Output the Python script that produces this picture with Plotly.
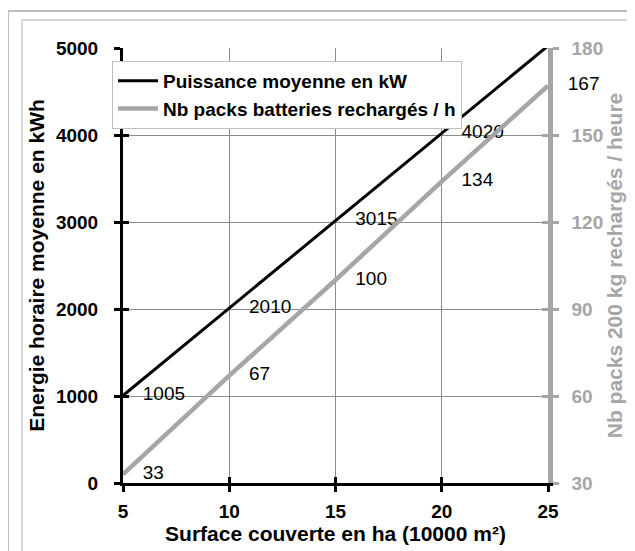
import plotly.graph_objects as go

# ---- data ----
surface_ha = [5, 10, 15, 20, 25]
puissance_kw = [1005, 2010, 3015, 4020, 5025]
puissance_labels = ["1005", "2010", "3015", "4020", ""]
packs_h = [33, 67, 100, 134, 167]
packs_labels = ["33", "67", "100", "134", "167"]

x_ticks = [5, 10, 15, 20, 25]
left_ticks = [0, 1000, 2000, 3000, 4000, 5000]
right_ticks = [30, 60, 90, 120, 150, 180]

name_black = "Puissance moyenne en kW"
name_gray = "Nb packs batteries rechargés / h"
x_title = "Surface couverte en ha (10000 m²)"
y_title = "Energie horaire moyenne en kWh"
y2_title = "Nb packs 200 kg rechargés / heure"

FONT = "Liberation Sans, Arial, sans-serif"
GRAY = "#A6A6A6"
GRID = "#8C8C8C"

fig = go.Figure()

fig.add_trace(go.Scatter(
    x=surface_ha, y=puissance_kw, name=name_black,
    mode="lines+markers+text", text=puissance_labels, textposition="middle right",
    textfont=dict(family=FONT, size=19, color="#000000"),
    line=dict(color="#000000", width=3),
    marker=dict(size=30, color="rgba(0,0,0,0)"),
    legendgroup="a", cliponaxis=True,
))
fig.add_trace(go.Scatter(
    x=surface_ha, y=packs_h, name=name_gray, yaxis="y2",
    mode="lines+markers+text", text=packs_labels, textposition="middle right",
    textfont=dict(family=FONT, size=19, color="#000000"),
    line=dict(color=GRAY, width=4.5),
    marker=dict(size=30, color="rgba(0,0,0,0)"),
    legendgroup="b", cliponaxis=False,
))

tick_font = dict(family=FONT, size=19, color="#000000", weight="bold")
title_font = dict(family=FONT, size=21, color="#000000", weight="bold")
gray_tick_font = dict(family=FONT, size=19, color=GRAY, weight="bold")
gray_title_font = dict(family=FONT, size=21, color=GRAY, weight="bold")

fig.update_layout(
    width=635, height=551,
    margin=dict(l=115, r=95, t=40, b=76, autoexpand=False),
    paper_bgcolor="white", plot_bgcolor="white",
    font=dict(family=FONT),
    showlegend=True,
    legend=dict(
        x=-0.0259, y=0.9701, xanchor="left", yanchor="top",
        bgcolor="white", bordercolor="#BFBFBF", borderwidth=1,
        font=dict(family=FONT, size=19, color="#000000", weight="bold"),
        tracegroupgap=0, itemwidth=40,
    ),
    xaxis=dict(
        range=[5, 25], tickvals=x_ticks, ticks="outside", ticklen=6, tickwidth=3,
        tickcolor="#000000", showline=True, linecolor="#000000", linewidth=3,
        showgrid=True, gridcolor=GRID, gridwidth=1, zeroline=False,
        tickfont=tick_font, ticklabelstandoff=3,
        title=dict(text=x_title, font=title_font, standoff=3),
        anchor="y",
    ),
    yaxis=dict(
        range=[0, 5000], tickvals=left_ticks, ticks="outside", ticklen=6, tickwidth=3,
        tickcolor="#000000", showline=True, linecolor="#000000", linewidth=3,
        showgrid=True, gridcolor=GRID, gridwidth=1, zeroline=False,
        tickfont=tick_font, ticklabelstandoff=12,
        title=dict(text=y_title, font=title_font, standoff=6),
    ),
    yaxis2=dict(
        range=[30, 180], tickvals=right_ticks, overlaying="y", side="right", anchor="x",
        ticks="outside", ticklen=6, tickwidth=3, tickcolor=GRAY,
        showline=True, linecolor=GRAY, linewidth=4.5, showgrid=False, zeroline=False,
        tickfont=gray_tick_font, ticklabelstandoff=9,
        title=dict(text=y2_title, font=gray_title_font, standoff=5),
    ),
    # overlay axes for the inner half of the crossing tick marks
    xaxis2=dict(
        range=[5, 25], tickvals=x_ticks, overlaying="x", anchor="y", side="bottom",
        ticks="inside", ticklen=6, tickwidth=3, tickcolor="#000000",
        showticklabels=False, showgrid=False, showline=False, zeroline=False,
    ),
    yaxis3=dict(
        range=[0, 5000], tickvals=left_ticks, overlaying="y", anchor="x", side="left",
        ticks="inside", ticklen=6, tickwidth=3, tickcolor="#000000",
        showticklabels=False, showgrid=False, showline=False, zeroline=False,
    ),
    yaxis4=dict(
        range=[30, 180], tickvals=right_ticks, overlaying="y", anchor="x", side="right",
        ticks="inside", ticklen=6, tickwidth=3, tickcolor=GRAY,
        showticklabels=False, showgrid=False, showline=False, zeroline=False,
    ),
    shapes=[
        dict(type="rect", xref="paper", yref="paper", x0=-0.2706, x1=1.5, y0=-0.4, y1=1.0851,
             line=dict(color="#BDBDBD", width=2), fillcolor="rgba(0,0,0,0)", layer="below"),
        dict(type="rect", xref="paper", yref="paper", x0=-0.2376, x1=1.5, y0=-0.4, y1=1.0644,
             line=dict(color="#D9D9D9", width=2), fillcolor="rgba(0,0,0,0)", layer="below"),
    ],
)

# invisible helper traces so overlay axes are drawn
fig.add_trace(go.Scatter(x=[5], y=[0], xaxis="x2", yaxis="y3", mode="markers",
                         marker=dict(opacity=0), showlegend=False, hoverinfo="skip"))
fig.add_trace(go.Scatter(x=[5], y=[30], xaxis="x", yaxis="y4", mode="markers",
                         marker=dict(opacity=0), showlegend=False, hoverinfo="skip"))

fig.write_html("out.html")
